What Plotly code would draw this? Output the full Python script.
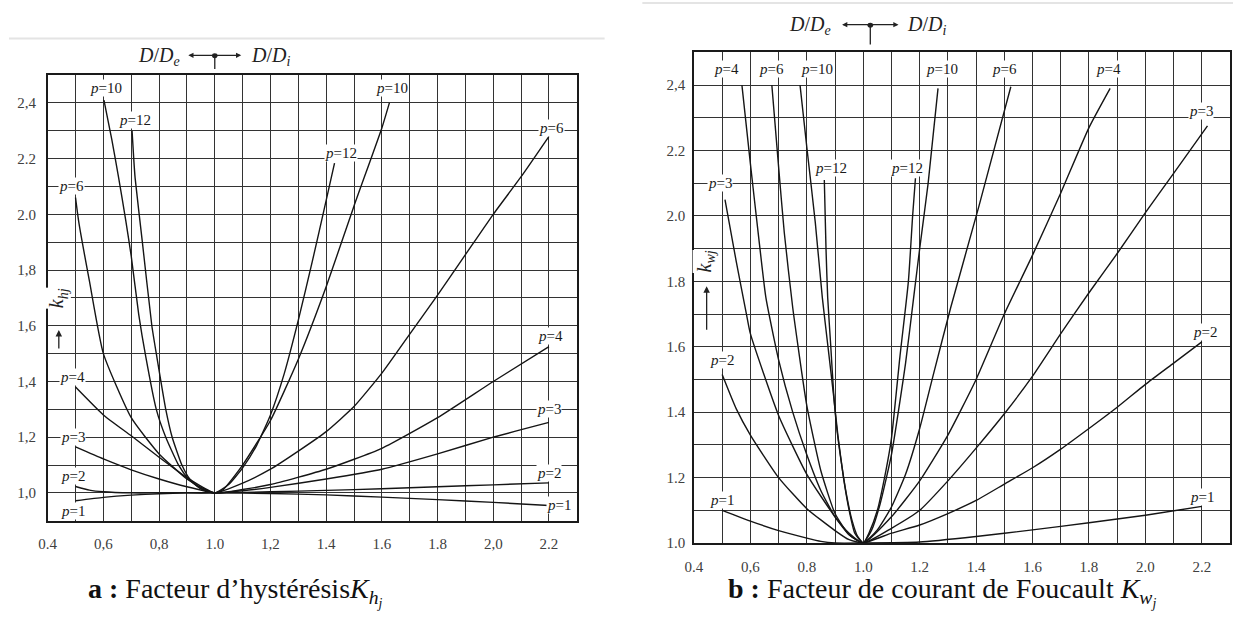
import numpy as np
import plotly.graph_objects as go

# ---------------- Chart a : K_hj (hysteresis factor) ----------------
a_p1_x = [0.5, 0.6, 0.7, 0.8, 0.9, 1.0, 1.2, 1.4, 1.6, 1.8, 2.0, 2.2]
a_p1_y = [0.972, 0.984, 0.992, 0.997, 1.0, 1.0, 0.998, 0.993, 0.985, 0.976, 0.966, 0.955]
a_p2_x = [0.5, 0.55, 0.6, 0.7, 0.8, 0.9, 1.0, 1.2, 1.4, 1.6, 1.8, 2.0, 2.2]
a_p2_y = [1.023, 1.01, 1.004, 1.0, 1.0, 1.0, 1.0, 1.004, 1.009, 1.015, 1.022, 1.029, 1.036]
a_p3_x = [0.5, 0.6, 0.7, 0.8, 0.9, 1.0, 1.1, 1.2, 1.4, 1.6, 1.8, 2.0, 2.2]
a_p3_y = [1.165, 1.122, 1.083, 1.05, 1.022, 1.0, 1.008, 1.02, 1.05, 1.085, 1.14, 1.20, 1.253]
a_p4_x = [0.5, 0.6, 0.7, 0.8, 0.9, 1.0, 1.1, 1.2, 1.4, 1.6, 1.8, 2.0, 2.2]
a_p4_y = [1.38, 1.28, 1.205, 1.128, 1.055, 1.0, 1.012, 1.03, 1.085, 1.16, 1.27, 1.40, 1.525]
a_p6_x = [0.5, 0.512, 0.55, 0.6, 0.7, 0.8, 0.9, 0.95, 1.0, 1.1, 1.2, 1.3, 1.4, 1.5, 1.6, 1.7, 1.8, 1.9, 2.0, 2.1, 2.2]
a_p6_y = [2.06, 1.97, 1.76, 1.50, 1.27, 1.14, 1.05, 1.02, 1.0, 1.035, 1.085, 1.15, 1.22, 1.31, 1.43, 1.57, 1.71, 1.855, 2.0, 2.135, 2.28]
a_p10_x = [0.602, 0.63, 0.655, 0.68, 0.70, 0.727, 0.752, 0.79, 0.824, 0.87, 0.906, 0.95, 1.0,
           1.03, 1.1, 1.2, 1.3, 1.4, 1.5, 1.6, 1.627]
a_p10_y = [2.41, 2.27, 2.13, 1.98, 1.85, 1.64, 1.49, 1.30, 1.20, 1.10, 1.05, 1.015, 1.0,
           1.012, 1.10, 1.26, 1.48, 1.74, 2.03, 2.31, 2.40]
a_p12_x = [0.703, 0.709, 0.714, 0.74, 0.774, 0.792, 0.824, 0.847, 0.882, 0.91, 0.95, 1.0,
           1.05, 1.1, 1.15, 1.2, 1.25, 1.3, 1.35, 1.4, 1.43]
a_p12_y = [2.30, 2.20, 2.13, 1.90, 1.60, 1.488, 1.30, 1.20, 1.10, 1.05, 1.015, 1.0,
           1.03, 1.09, 1.17, 1.28, 1.43, 1.62, 1.83, 2.05, 2.184]

# ---------------- Chart b : K_wj (eddy-current factor) ----------------
b_p1_x = [0.5, 0.6, 0.7, 0.8, 0.85, 0.9, 1.0, 1.2, 1.4, 1.6, 1.8, 2.0, 2.2]
b_p1_y = [1.10, 1.067, 1.038, 1.015, 1.005, 1.0, 1.0, 1.003, 1.02, 1.04, 1.062, 1.085, 1.112]
b_p2_x = [0.5, 0.55, 0.6, 0.7, 0.8, 0.9, 0.95, 1.0, 1.1, 1.2, 1.3, 1.4, 1.5, 1.6, 1.7, 1.8, 1.9, 2.0, 2.1, 2.2]
b_p2_y = [1.515, 1.41, 1.33, 1.20, 1.105, 1.038, 1.01, 1.0, 1.03, 1.055, 1.09, 1.13, 1.18, 1.23, 1.287, 1.35, 1.415, 1.485, 1.55, 1.615]
b_p3_x = [0.51, 0.55, 0.586, 0.6, 0.7, 0.8, 0.9, 0.95, 1.0, 1.1, 1.2, 1.3, 1.4, 1.5, 1.6, 1.7, 1.8, 1.9, 2.0, 2.1, 2.22]
b_p3_y = [2.05, 1.86, 1.70, 1.64, 1.39, 1.21, 1.08, 1.03, 1.0, 1.045, 1.10, 1.19, 1.29, 1.395, 1.51, 1.64, 1.765, 1.885, 2.01, 2.13, 2.275]
b_p4_x = [0.57, 0.60, 0.63, 0.655, 0.70, 0.75, 0.80, 0.85, 0.90, 0.95, 1.0,
          1.1, 1.2, 1.3, 1.4, 1.5, 1.6, 1.7, 1.8, 1.875]
b_p4_y = [2.40, 2.16, 1.93, 1.75, 1.56, 1.40, 1.27, 1.16, 1.08, 1.025, 1.0,
          1.08, 1.19, 1.33, 1.50, 1.70, 1.88, 2.07, 2.27, 2.39]
b_p6_x = [0.676, 0.70, 0.72, 0.75, 0.80, 0.85, 0.90, 0.95, 1.0,
          1.05, 1.1, 1.15, 1.2, 1.25, 1.31, 1.41, 1.523]
b_p6_y = [2.40, 2.15, 1.95, 1.72, 1.42, 1.22, 1.09, 1.025, 1.0,
          1.04, 1.11, 1.21, 1.35, 1.52, 1.72, 2.03, 2.395]
b_p10_x = [0.776, 0.80, 0.83, 0.855, 0.875, 0.895, 0.91, 0.93, 0.95, 0.97, 1.0,
           1.03, 1.06, 1.1, 1.15, 1.18, 1.2, 1.23, 1.265]
b_p10_y = [2.40, 2.21, 1.98, 1.75, 1.60, 1.45, 1.33, 1.20, 1.10, 1.03, 1.0,
           1.04, 1.12, 1.27, 1.55, 1.76, 1.90, 2.10, 2.39]
b_p12_x = [0.862, 0.868, 0.874, 0.885, 0.895, 0.905, 0.92, 0.94, 0.96, 0.98, 1.0,
           1.02, 1.05, 1.08, 1.1, 1.13, 1.16, 1.175, 1.185]
b_p12_y = [2.11, 1.90, 1.75, 1.60, 1.46, 1.36, 1.26, 1.15, 1.07, 1.02, 1.0,
           1.03, 1.10, 1.22, 1.32, 1.57, 1.80, 2.0, 2.115]

# ---------------- Tick labels ----------------
a_xtick_vals = [0.4, 0.6, 0.8, 1.0, 1.2, 1.4, 1.6, 1.8, 2.0, 2.2]
a_xtick_text = ["0.4", "0,6", "0,8", "1.0", "1,2", "1.4", "1.6", "1.8", "2,0", "2.2"]
a_ytick_vals = [1.0, 1.2, 1.4, 1.6, 1.8, 2.0, 2.2, 2.4]
a_ytick_text = ["1,0", "1,2", "1,4", "1,6", "1,8", "2.0", "2.2", "2,4"]
b_xtick_vals = [0.4, 0.6, 0.8, 1.0, 1.2, 1.4, 1.6, 1.8, 2.0, 2.2]
b_xtick_text = ["0.4", "0,6", "0.8", "1.0", "1.2", "1.4", "1.6", "1.8", "2.0", "2.2"]
b_ytick_vals = [1.0, 1.2, 1.4, 1.6, 1.8, 2.0, 2.2, 2.4]
b_ytick_text = ["1.0", "1.2", "1.4", "1.6", "1.8", "2.0", "2.2", "2,4"]

# ---------------- Curve labels ----------------
a_lab_text = ["p=10", "p=12", "p=6", "p=4", "p=3", "p=2", "p=1",
              "p=10", "p=12", "p=6", "p=4", "p=3", "p=2", "p=1"]
a_lab_x = [0.61, 0.715, 0.487, 0.49, 0.49, 0.49, 0.49,
           1.636, 1.452, 2.21, 2.205, 2.20, 2.20, 2.235]
a_lab_y = [2.455, 2.34, 2.10, 1.415, 1.20, 1.06, 0.935,
           2.455, 2.22, 2.31, 1.565, 1.30, 1.07, 0.955]
b_lab_text = ["p=4", "p=6", "p=10", "p=12", "p=3", "p=2", "p=1",
              "p=10", "p=12", "p=6", "p=4", "p=3", "p=2", "p=1"]
b_lab_x = [0.515, 0.675, 0.835, 0.885, 0.494, 0.50, 0.50,
           1.28, 1.155, 1.50, 1.87, 2.196, 2.21, 2.20]
b_lab_y = [2.45, 2.45, 2.45, 2.145, 2.10, 1.56, 1.13,
           2.45, 2.145, 2.45, 2.45, 2.32, 1.645, 1.14]

SERIF = "Liberation Serif"
LINE = dict(color="#151515", width=1.4, shape="spline", smoothing=0.5)

fig = go.Figure()
for xs, ys in [(a_p1_x, a_p1_y), (a_p2_x, a_p2_y), (a_p3_x, a_p3_y), (a_p4_x, a_p4_y),
               (a_p6_x, a_p6_y), (a_p10_x, a_p10_y), (a_p12_x, a_p12_y)]:
    fig.add_trace(go.Scatter(x=xs, y=ys, mode="lines", line=LINE, xaxis="x", yaxis="y",
                             showlegend=False, hoverinfo="skip"))
for xs, ys in [(b_p1_x, b_p1_y), (b_p2_x, b_p2_y), (b_p3_x, b_p3_y), (b_p4_x, b_p4_y),
               (b_p6_x, b_p6_y), (b_p10_x, b_p10_y), (b_p12_x, b_p12_y)]:
    fig.add_trace(go.Scatter(x=xs, y=ys, mode="lines", line=LINE, xaxis="x2", yaxis="y2",
                             showlegend=False, hoverinfo="skip"))

GRID = "#333333"
tickfont = dict(family=SERIF, size=15, color="#404040")


def xaxis(domain, anchor, vals, text, standoff):
    return dict(domain=domain, anchor=anchor, range=[0.4, 2.3], tickmode="array",
                tickvals=vals, ticktext=text, showgrid=True, gridcolor=GRID, gridwidth=1.1,
                minor=dict(tickvals=list(np.round(np.arange(0.5, 2.25, 0.1), 2)),
                           showgrid=True, gridcolor=GRID, gridwidth=1.1, ticks=""),
                zeroline=False, showline=True, mirror=True, linecolor="#1a1a1a", linewidth=1.6,
                ticks="outside", ticklen=standoff, tickcolor="rgba(0,0,0,0)",
                tickfont=tickfont, fixedrange=True)


def yaxis(domain, anchor, rng, vals, text, standoff):
    return dict(domain=domain, anchor=anchor, range=rng, tickmode="array",
                tickvals=vals, ticktext=text, showgrid=True, gridcolor=GRID, gridwidth=1.1,
                minor=dict(tickvals=list(np.round(np.arange(1.0, 2.45, 0.1), 2)),
                           showgrid=True, gridcolor=GRID, gridwidth=1.1, ticks=""),
                zeroline=False, showline=True, mirror=True, linecolor="#1a1a1a", linewidth=1.6,
                ticks="outside", ticklen=standoff, tickcolor="rgba(0,0,0,0)",
                tickfont=tickfont, fixedrange=True)


fig.update_layout(
    width=1233, height=629, margin=dict(l=0, r=0, t=0, b=0),
    plot_bgcolor="white", paper_bgcolor="white", showlegend=False,
    xaxis=xaxis([0.0316, 0.4639], "y", a_xtick_vals, a_xtick_text, 8),
    yaxis=yaxis([0.1614, 0.8792], "x", [0.9, 2.5], a_ytick_vals, a_ytick_text, 7),
    xaxis2=xaxis([0.5596, 0.9976], "y2", b_xtick_vals, b_xtick_text, 9),
    yaxis2=yaxis([0.1256, 0.9157], "x2", [1.0, 2.5], b_ytick_vals, b_ytick_text, 4),
)

ann = []
labfont = dict(family=SERIF, size=15, color="#1a1a1a")
for t, x, y in zip(a_lab_text, a_lab_x, a_lab_y):
    ann.append(dict(text="<i>p</i>" + t[1:], x=x, y=y, xref="x", yref="y", showarrow=False,
                    font=labfont, bgcolor="white", borderpad=0))
for t, x, y in zip(b_lab_text, b_lab_x, b_lab_y):
    ann.append(dict(text="<i>p</i>" + t[1:], x=x, y=y, xref="x2", yref="y2", showarrow=False,
                    font=labfont, bgcolor="white", borderpad=0))

# y-axis symbols with arrows
ysym = dict(family=SERIF, size=20, color="#222")
ann.append(dict(text="<i>k</i><sub><i>hj</i></sub>", x=0.438, y=1.70, xref="x", yref="y",
                textangle=-90, showarrow=False, font=ysym, bgcolor="white", borderpad=0))
ann.append(dict(text="", x=0.44, y=1.585, xref="x", yref="y", showarrow=True, ax=0, ay=20,
                arrowhead=2, arrowsize=1, arrowwidth=1.3, arrowcolor="#222"))
ann.append(dict(text="<i>k</i><sub><i>wj</i></sub>", x=0.442, y=1.86, xref="x2", yref="y2",
                textangle=-90, showarrow=False, font=ysym, bgcolor="white", borderpad=0))
ann.append(dict(text="", x=0.445, y=1.785, xref="x2", yref="y2", showarrow=True, ax=0, ay=45,
                arrowhead=2, arrowsize=1, arrowwidth=1.3, arrowcolor="#222"))

# header D/De <- -> D/Di
hdr = dict(family=SERIF, size=20, color="#222")
ya, yb = 1 - 57 / 629, 1 - 26 / 629
ann += [
    dict(text="<i>D</i>/<i>D</i><sub><i>e</i></sub>", x=0.80, y=ya, xref="x", yref="paper",
         xanchor="center", yanchor="middle", showarrow=False, font=hdr),
    dict(text="<i>D</i>/<i>D</i><sub><i>i</i></sub>", x=1.20, y=ya, xref="x", yref="paper",
         xanchor="center", yanchor="middle", showarrow=False, font=hdr),
    dict(text="", x=0.905, y=1 - 56 / 629, xref="x", yref="paper", showarrow=True, ax=27, ay=0,
         arrowhead=2, arrowsize=0.8, arrowwidth=1.3, arrowcolor="#222"),
    dict(text="", x=1.095, y=1 - 56 / 629, xref="x", yref="paper", showarrow=True, ax=-27, ay=0,
         arrowhead=2, arrowsize=0.8, arrowwidth=1.3, arrowcolor="#222"),
    dict(text="<i>D</i>/<i>D</i><sub><i>e</i></sub>", x=0.81, y=yb, xref="x2", yref="paper",
         xanchor="center", yanchor="middle", showarrow=False, font=hdr),
    dict(text="<i>D</i>/<i>D</i><sub><i>i</i></sub>", x=1.225, y=yb, xref="x2", yref="paper",
         xanchor="center", yanchor="middle", showarrow=False, font=hdr),
    dict(text="", x=0.925, y=1 - 25 / 629, xref="x2", yref="paper", showarrow=True, ax=29, ay=0,
         arrowhead=2, arrowsize=0.8, arrowwidth=1.3, arrowcolor="#222"),
    dict(text="", x=1.125, y=1 - 25 / 629, xref="x2", yref="paper", showarrow=True, ax=-29, ay=0,
         arrowhead=2, arrowsize=0.8, arrowwidth=1.3, arrowcolor="#222"),
]

# captions
cap = dict(family=SERIF, size=28, color="#111")
ann += [
    dict(text="<b>a :</b> Facteur d’hystérésis<i>K</i><sub><i>h</i><sub><i>j</i></sub></sub>",
         x=228 / 1233, y=1 - 600 / 629, xref="paper", yref="paper", xanchor="center",
         yanchor="middle", showarrow=False, font=cap),
    dict(text="<b>b :</b> Facteur de courant de Foucault <i>K</i><sub><i>w</i><sub><i>j</i></sub></sub>",
         x=940 / 1233, y=1 - 600 / 629, xref="paper", yref="paper", xanchor="center",
         yanchor="middle", showarrow=False, font=cap),
]
fig.update_layout(annotations=ann)

shapes = [
    dict(type="circle", xref="x", yref="paper", x0=0.99, x1=1.01, y0=1 - 59 / 629, y1=1 - 54 / 629,
         fillcolor="#222", line=dict(width=0)),
    dict(type="line", xref="x", yref="paper", x0=1.0, x1=1.0, y0=1 - 56 / 629, y1=1 - 70 / 629,
         line=dict(color="#222", width=1.3)),
    dict(type="circle", xref="x2", yref="paper", x0=1.015, x1=1.035, y0=1 - 28 / 629, y1=1 - 23 / 629,
         fillcolor="#222", line=dict(width=0)),
    dict(type="line", xref="x2", yref="paper", x0=1.025, x1=1.025, y0=1 - 25 / 629, y1=1 - 45 / 629,
         line=dict(color="#222", width=1.3)),
    dict(type="line", xref="paper", yref="paper", x0=0, x1=600 / 1233, y0=1 - 39 / 629, y1=1 - 39 / 629,
         line=dict(color="#e4e4e4", width=2)),
    dict(type="line", xref="paper", yref="paper", x0=638 / 1233, x1=1, y0=1 - 3 / 629, y1=1 - 3 / 629,
         line=dict(color="#e4e4e4", width=2)),
]
fig.update_layout(shapes=shapes)

fig.write_html("out.html")
